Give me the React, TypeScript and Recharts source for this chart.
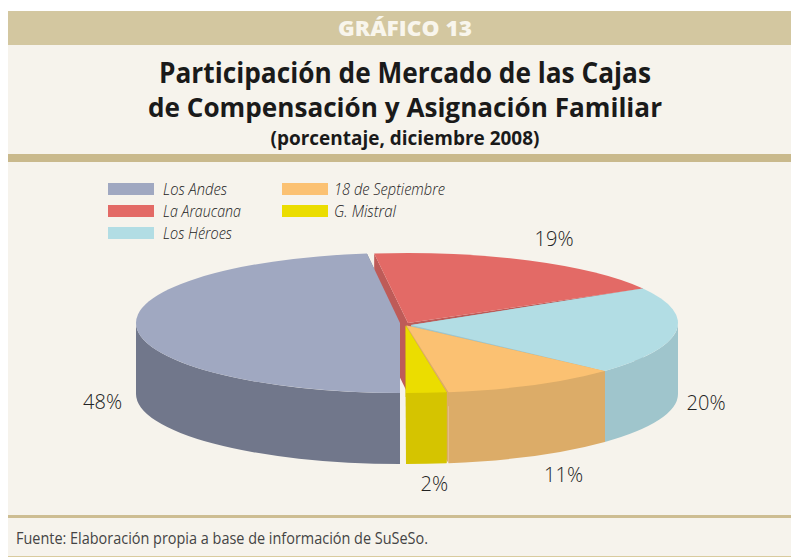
import { PieChart, Pie, Legend } from 'recharts'

const cajas = ['Los Andes', 'La Araucana', 'Los Héroes', '18 de Septiembre', 'G. Mistral']
const shares = [48, 18.8, 20.2, 10.6, 2.4]
const topColors = ['#A0A8C1', '#E36A66', '#B2DDE4', '#FBC172', '#EBDD00']
const wallColors = ['#71778B', '#BE5B58', '#9FC5CC', '#DCAC68', '#D5C400']

const topData = cajas.map((name, i) => ({ name, value: shares[i], fill: topColors[i] }))
const wallData = cajas.map((name, i) => ({ name, value: shares[i], fill: wallColors[i] }))

// pie geometry, page pixels
const CX = 408
const CY = 323
const RX = 270
const RY = 70
const DEPTH = 71

// slices are pulled apart a little: arc centre shift, arc radius and apex point
const arcShift = [-8, 0, 0, 0, -2]
const arcRadius = [264, 270, 270, 270, 270]
const apexes = [[400, 323], [408, 323], [411, 325], [406.5, 325.5], [405.6, 325.5]]
const labelNudges = [[-36, 74], [25, -22], [30, 71], [30, 90], [6, 91]]

const legendCells = [[108, 183], [108, 205], [108, 227], [282, 183], [282, 205]]
const legendWidths = [64, 78, 69, 111, 62]

const rad = (a: number) => (a * Math.PI) / 180

function arcPoint(i: number, a: number) {
  return {
    x: CX + arcShift[i] + arcRadius[i] * Math.cos(rad(a)),
    y: CY - RY * Math.sin(rad(a)),
  }
}

function TopFace(props: any) {
  const { name, startAngle, endAngle, fill } = props
  const index = cajas.indexOf(name)
  const s = arcPoint(index, startAngle)
  const e = arcPoint(index, endAngle)
  const [ax, ay] = apexes[index]
  const large = Math.abs(startAngle - endAngle) > 180 ? 1 : 0
  const rx = arcRadius[index]
  return <path d={`M${ax} ${ay}L${s.x} ${s.y}A${rx} ${RY} 0 ${large} 1 ${e.x} ${e.y}Z`} fill={fill} />
}

function Walls(props: any) {
  const { name, startAngle, endAngle, fill } = props
  const index = cajas.indexOf(name)
  const hi = Math.max(startAngle, endAngle)
  const lo = Math.min(startAngle, endAngle)
  const [ax, ay] = apexes[index]
  const rx = arcRadius[index]
  const s = arcPoint(index, startAngle)
  const e = arcPoint(index, endAngle)
  const parts = [
    `M${ax} ${ay}L${s.x} ${s.y}V${s.y + DEPTH}L${ax} ${ay + DEPTH}Z`,
    `M${ax} ${ay}L${e.x} ${e.y}V${e.y + DEPTH}L${ax} ${ay + DEPTH}Z`,
  ]
  // only the part of the rim on the front half of the ellipse shows
  for (const [from, to] of [[360, 180], [0, -180]]) {
    const a1 = Math.min(hi, from)
    const a2 = Math.max(lo, to)
    if (a1 > a2) {
      const p1 = arcPoint(index, a1)
      const p2 = arcPoint(index, a2)
      parts.push(
        `M${p1.x} ${p1.y}A${rx} ${RY} 0 0 1 ${p2.x} ${p2.y}V${p2.y + DEPTH}A${rx} ${RY} 0 0 0 ${p1.x} ${p1.y + DEPTH}Z`
      )
    }
  }
  // separate paths, the windings of a single one would cancel out
  return (
    <g>
      {parts.map((d) => (
        <path key={d} d={d} fill={fill} />
      ))}
    </g>
  )
}

function PercentLabel(props: any) {
  const { name, midAngle, value } = props
  const index = cajas.indexOf(name)
  const x = CX + RX * Math.cos(rad(midAngle)) + labelNudges[index][0]
  const y = CY - RY * Math.sin(rad(midAngle)) + labelNudges[index][1]
  return (
    <text x={x} y={y} textAnchor="middle" dominantBaseline="central" fontFamily="Open Sans" fontWeight={300} fontSize={20} fill="#222222">
      {Math.round(value)}%
    </text>
  )
}

function LegendBlock({ payload }: any) {
  const items = (payload ?? []).filter((entry: any) => entry.type !== 'none' && topColors.includes(entry.color))
  return (
    <svg width={791} height={80} style={{ display: 'block', overflow: 'visible' }}>
      {items.map((entry: any) => {
        const i = cajas.indexOf(entry.value)
        return (
          <g key={entry.value}>
            <rect x={legendCells[i][0]} y={legendCells[i][1] - 170} width={46} height={12} fill={entry.color} />
            <text
              x={legendCells[i][0] + (i < 3 ? 55 : 52)}
              y={legendCells[i][1] - 170 + 12}
              fontFamily="Open Sans"
              fontStyle="italic"
              fontWeight={300}
              fontSize={17}
              fill="#222222"
              textLength={legendWidths[i]}
              lengthAdjust="spacingAndGlyphs"
            >
              {entry.value}
            </text>
          </g>
        )
      })}
    </svg>
  )
}

const band = (top: number, height: number, color: string) => (
  <div style={{ position: 'absolute', left: 8, top, width: 783, height, background: color }} />
)

export default function App() {
  return (
    <div style={{ position: 'absolute', left: 0, top: 0, width: 791, height: 557, background: '#FFFFFF', overflow: 'hidden' }}>
      {band(11, 546, '#F6F3EC')}
      {band(11, 34, '#D3C7A0')}
      {band(154, 8, '#C9B98C')}
      {band(515, 3, '#CDBD92')}
      {band(556, 1, '#D9CB9E')}

      <PieChart width={791} height={557} margin={{ top: 0, right: 0, bottom: 0, left: 0 }} style={{ position: 'absolute', left: 0, top: 0 }}>
        <Legend
          content={<LegendBlock />}
          wrapperStyle={{ position: 'absolute', left: 0, top: 170, width: 791, height: 80 }}
        />
        <Pie
          data={wallData}
          dataKey="value"
          nameKey="name"
          cx={CX}
          cy={CY}
          outerRadius={RX}
          startAngle={270}
          endAngle={-90}
          stroke="none"
          legendType="none"
          shape={<Walls />}
          isAnimationActive={false}
        />
        <Pie
          data={topData}
          dataKey="value"
          nameKey="name"
          cx={CX}
          cy={CY}
          outerRadius={RX}
          startAngle={270}
          endAngle={-90}
          stroke="none"
          shape={<TopFace />}
          label={<PercentLabel />}
          labelLine={false}
          isAnimationActive={false}
        />
      </PieChart>

      <svg width={791} height={557} style={{ position: 'absolute', left: 0, top: 0, pointerEvents: 'none' }}>
        <g fontFamily="Open Sans" fontWeight={700} textAnchor="middle">
          <text x={405} y={36} fontSize={21} fontWeight={800} fill="#F8F5EC" textLength={134} lengthAdjust="spacingAndGlyphs">GRÁFICO 13</text>
          <text x={405} y={83} fontSize={28} fill="#1A1A1A" textLength={492} lengthAdjust="spacingAndGlyphs">Participación de Mercado de las Cajas</text>
          <text x={405} y={117} fontSize={27} fill="#1A1A1A" textLength={514} lengthAdjust="spacingAndGlyphs">de Compensación y Asignación Familiar</text>
          <text x={405} y={145} fontSize={19} fill="#1A1A1A" textLength={269} lengthAdjust="spacingAndGlyphs">(porcentaje, diciembre 2008)</text>
        </g>
        <text x={16} y={544} fontFamily="Open Sans" fontWeight={400} fontSize={17} fill="#444444" textLength={412} lengthAdjust="spacingAndGlyphs">
          Fuente: Elaboración propia a base de información de SuSeSo.
        </text>
      </svg>
    </div>
  )
}
